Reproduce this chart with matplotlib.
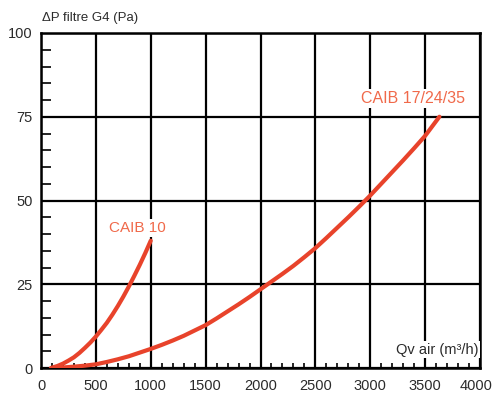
import matplotlib
matplotlib.use('Agg')
import matplotlib.pyplot as plt
import matplotlib.transforms as mtransforms
from matplotlib.ticker import MultipleLocator

# CAIB 10 filter pressure drop
Q_CAIB10 = [90, 150, 200, 250, 300, 350, 400, 450, 500, 550, 600, 650,
            700, 750, 800, 850, 900, 950, 1000]
DP_CAIB10 = [0.0, 0.6, 1.3, 2.2, 3.2, 4.5, 6.0, 7.6, 9.4, 11.4, 13.5, 15.9,
             18.5, 21.3, 24.3, 27.5, 30.8, 34.3, 38.0]

# CAIB 17/24/35
Q_CAIB17 = [150, 200, 300, 400, 500, 600, 700, 800, 900, 1000, 1100, 1200,
            1300, 1400, 1500, 1600, 1700, 1800, 1900, 2000, 2100, 2200,
            2300, 2400, 2500, 2600, 2700, 2800, 2900, 3000, 3100, 3200,
            3300, 3400, 3500, 3630]
DP_CAIB17 = [0.0, 0.15, 0.4, 0.7, 1.1, 1.8, 2.6, 3.5, 4.6, 5.7, 6.9, 8.2,
             9.6, 11.2, 12.8, 14.8, 16.9, 19.0, 21.2, 23.5, 25.8, 28.1,
             30.5, 33.1, 35.8, 38.8, 41.9, 45.0, 48.2, 51.5, 55.0, 58.5,
             62.0, 65.6, 69.3, 75.0]

X_TICKS = [0, 500, 1000, 1500, 2000, 2500, 3000, 3500, 4000]
Y_TICKS = [0, 25, 50, 75, 100]

RED = '#e8432b'
LABEL_RED = '#f0694a'
TXT = '#2b2b2b'

plt.rcParams['font.family'] = ['Liberation Sans', 'DejaVu Sans']

fig = plt.figure(figsize=(4.93, 3.99), dpi=100)
ax = fig.add_axes([41 / 493, 31 / 399, 439 / 493, 335 / 399])

ax.set_xlim(0, 4000)
ax.set_ylim(0, 100)
ax.set_xticks(X_TICKS)
ax.set_yticks(Y_TICKS)
ax.xaxis.set_minor_locator(MultipleLocator(100))
ax.yaxis.set_minor_locator(MultipleLocator(5))

ax.grid(True, which='major', color='black', lw=1.6)
ax.set_axisbelow(True)
for s in ax.spines.values():
    s.set_linewidth(1.8)
    s.set_color('black')

ax.tick_params(which='major', length=0, labelsize=9.5, labelcolor=TXT)
ax.tick_params(axis='x', which='major', pad=8)
ax.tick_params(axis='y', which='major', pad=6)
ax.tick_params(which='minor', direction='in', color='black', width=1.2)
ax.tick_params(axis='y', which='minor', length=7)
ax.tick_params(axis='x', which='minor', length=3.5)
for lbl in ax.get_xticklabels() + ax.get_yticklabels():
    lbl.set_fontfamily(['Liberation Sans Narrow', 'Liberation Sans'])
    lbl.set_fontsize(10.5)
# last x label sits right at the figure edge, nudge it in a little
last = ax.get_xticklabels()[-1]
last.set_transform(last.get_transform() +
                   mtransforms.ScaledTranslation(-4 / 100, 0, fig.dpi_scale_trans))

ax.plot(Q_CAIB10, DP_CAIB10, color=RED, lw=3, solid_capstyle='round', zorder=4)
ax.plot(Q_CAIB17, DP_CAIB17, color=RED, lw=3, solid_capstyle='round', zorder=4)

box = dict(facecolor='white', edgecolor='none', pad=1.5)
ax.text(878, 41.8, 'CAIB 10', color=LABEL_RED, fontsize=11, ha='center',
        va='center', bbox=box, zorder=5)
ax.text(3385, 80.5, 'CAIB 17/24/35', color=LABEL_RED, fontsize=11.5,
        ha='center', va='center', bbox=box, zorder=5)
ax.text(3990, 5.5, 'Qv air (m³/h)', color=TXT, fontsize=10.5, ha='right',
        va='center', bbox=dict(facecolor='white', edgecolor='none', pad=1),
        zorder=5)

fig.text(42 / 493, 1 - 18 / 399, 'ΔP filtre G4 (Pa)', color=TXT,
         fontsize=9.5, ha='left', va='center')

fig.savefig('out.png', dpi=100)
